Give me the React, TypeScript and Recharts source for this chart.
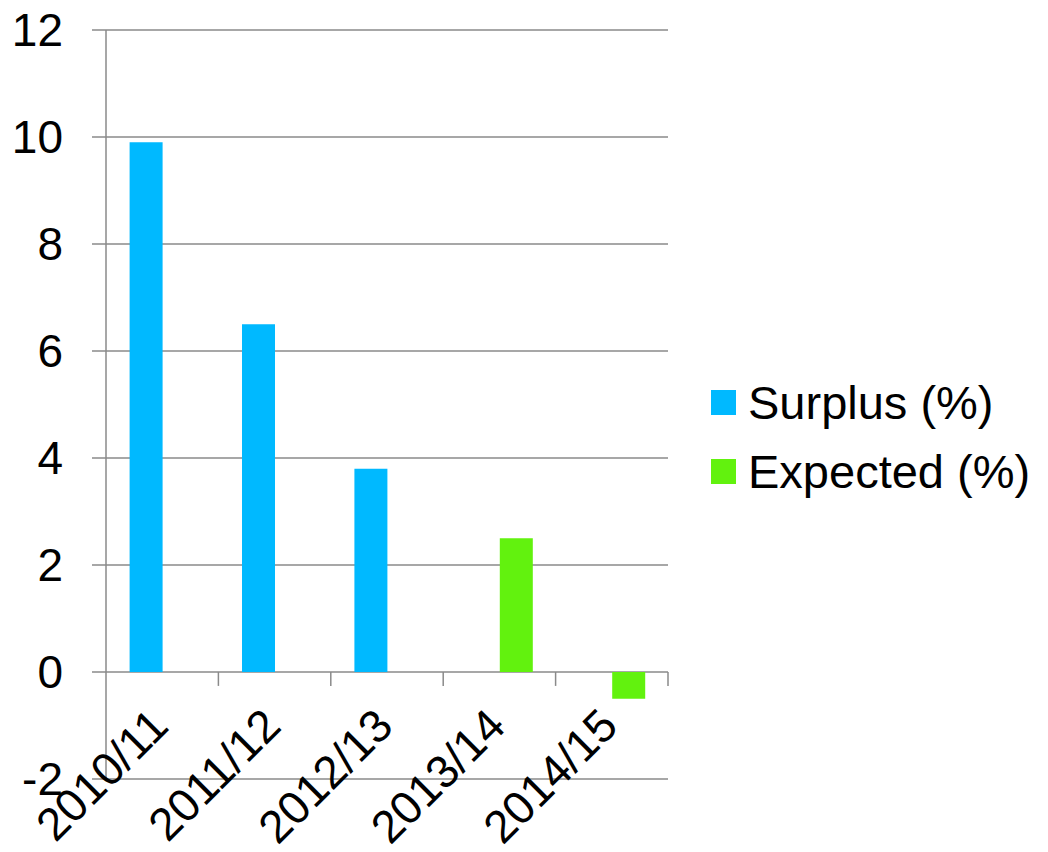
import React from "react";
import {
  BarChart,
  Bar,
  XAxis,
  YAxis,
  CartesianGrid,
  Legend,
  ReferenceLine,
} from "recharts";

const years = ["2010/11", "2011/12", "2012/13", "2013/14", "2014/15"];
const surplus = [9.9, 6.5, 3.8, null, null];
const expected = [null, null, null, 2.5, -0.5];
const yTicks = [-2, 0, 2, 4, 6, 8, 10, 12];

const series = [
  { key: "surplus", name: "Surplus (%)", color: "#00B9FF" },
  { key: "expected", name: "Expected (%)", color: "#62F20E" },
];

const data = years.map((year, i) => ({
  year,
  surplus: surplus[i],
  expected: expected[i],
}));

const FONT = "'Liberation Sans', Arial, sans-serif";
const GRID = "#8a8a8a";

const YearTick = ({ x, y, payload }: any) => {
  const tx = x - 15;
  const ty = y - 74;
  return (
    <text
      x={tx}
      y={ty}
      dy="0.72em"
      textAnchor="end"
      transform={`rotate(-45, ${tx}, ${ty})`}
      fontSize={46}
      fontFamily={FONT}
      fill="#000"
    >
      {payload.value}
    </text>
  );
};

const LegendBox = () => (
  <div style={{ fontFamily: FONT, fontSize: 47, color: "#000" }}>
    {series.map((s) => (
      <div key={s.key} style={{ display: "flex", alignItems: "center", height: 69 }}>
        <span
          style={{
            display: "inline-block",
            width: 25,
            height: 25,
            background: s.color,
            marginRight: 12,
          }}
        />
        <span>{s.name}</span>
      </div>
    ))}
  </div>
);

const App = () => {
  return (
    <div style={{ position: "absolute", left: 0, top: 0, background: "#fff" }}>
      <BarChart
        width={1048}
        height={852}
        data={data}
        margin={{ top: 30, right: 380, bottom: 43, left: 0 }}
        barGap={0}
        barCategoryGap="21%"
      >
        <CartesianGrid vertical={false} stroke={GRID} strokeWidth={1.5} />
        <XAxis
          dataKey="year"
          height={30}
          axisLine={false}
          tickLine={false}
          tickSize={0}
          tickMargin={0}
          interval={0}
          tick={<YearTick />}
        />
        <YAxis
          width={106}
          domain={[-2, 12]}
          ticks={yTicks}
          interval={0}
          stroke={GRID}
          strokeWidth={1.5}
          tickSize={14}
          tickMargin={29}
          tick={{ fontSize: 46, fontFamily: FONT, fill: "#000" }}
        />
        {/* small marks under the zero line at the right edge of each category */}
        {years.map((yr) => (
          <ReferenceLine
            key={yr}
            segment={[
              { x: yr, y: 0 },
              { x: yr, y: -0.26 },
            ]}
            position="end"
            stroke={GRID}
            strokeWidth={1.5}
          />
        ))}
        {series.map((s) => (
          <Bar
            key={s.key}
            dataKey={s.key}
            name={s.name}
            fill={s.color}
            isAnimationActive={false}
          />
        ))}
        <Legend
          layout="vertical"
          align="center"
          verticalAlign="middle"
          content={<LegendBox />}
          wrapperStyle={{ left: 711, top: 368, width: 330 }}
        />
      </BarChart>
    </div>
  );
};

export default App;
